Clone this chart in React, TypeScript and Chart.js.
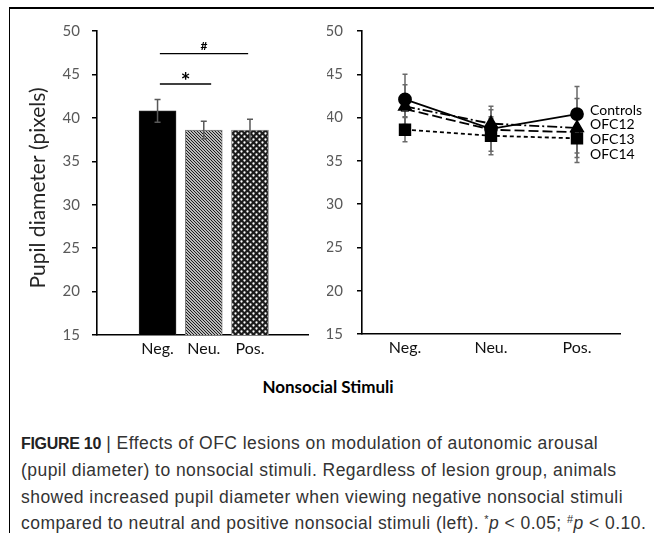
import React, { useEffect, useRef } from 'react';
import { Chart, registerables } from 'chart.js';

Chart.register(...registerables);

// ---------- data ----------
const categories = ['Neg.', 'Neu.', 'Pos.'];
const barMeans = [40.8, 38.6, 38.6];
const barErrors = [1.3, 1.0, 1.25];

const sigLabels = ['*', '#'];
const sigStart = [0.05, 0.05];
const sigEnd = [1.16, 1.96];
const sigLevel = [43.9, 47.4];

const seriesNames = ['Controls', 'OFC12', 'OFC13', 'OFC14'];
const controls = [42.1, 38.7, 40.4];
const controlsErr = [2.9, 2.6, 3.2];
const ofc12 = [41.3, 39.3, 38.8];
const ofc12Err = [2.5, 1.6, 3.4];
const ofc13 = [38.6, 37.9, 37.6];
const ofc13Err = [1.4, 2.2, 2.8];
const ofc14 = [41.0, 38.6, 38.3];
const ofc14Err = [0.9, 1.3, 2.4];

const yMin = 15;
const yMax = 50;
const yStep = 5;
const yTitle = 'Pupil diameter (pixels)';
const xTitle = 'Nonsocial Stimuli';

const FONT = 'Lato, "Open Sans", sans-serif';

function makeHatch(): CanvasPattern | string {
  const c = document.createElement('canvas');
  c.width = 3;
  c.height = 3;
  const g = c.getContext('2d');
  if (!g) return '#888';
  g.fillStyle = '#fff';
  g.fillRect(0, 0, 3, 3);
  g.strokeStyle = '#111';
  g.lineWidth = 1.1;
  g.beginPath();
  g.moveTo(-1, -1);
  g.lineTo(4, 4);
  g.moveTo(-1, 2);
  g.lineTo(1, 4);
  g.moveTo(2, -1);
  g.lineTo(4, 1);
  g.stroke();
  return g.createPattern(c, 'repeat') || '#888';
}

function makeDots(): CanvasPattern | string {
  const c = document.createElement('canvas');
  c.width = 6;
  c.height = 6;
  const g = c.getContext('2d');
  if (!g) return '#444';
  g.fillStyle = '#1a1a1a';
  g.fillRect(0, 0, 6, 6);
  g.fillStyle = '#fff';
  g.beginPath();
  g.arc(1.5, 1.5, 1.15, 0, Math.PI * 2);
  g.arc(4.5, 4.5, 1.15, 0, Math.PI * 2);
  g.fill();
  return g.createPattern(c, 'repeat') || '#444';
}

function drawErr(ctx: CanvasRenderingContext2D, x: number, yTop: number, yBot: number, cap: number) {
  ctx.beginPath();
  ctx.moveTo(x, yTop);
  ctx.lineTo(x, yBot);
  ctx.moveTo(x - cap, yTop);
  ctx.lineTo(x + cap, yTop);
  ctx.moveTo(x - cap, yBot);
  ctx.lineTo(x + cap, yBot);
  ctx.stroke();
}

function yAxis(pad: number, width: number) {
  return {
    min: yMin,
    max: yMax,
    ticks: {
      stepSize: yStep,
      font: { family: FONT, size: 15 },
      color: '#595959',
      padding: pad,
    },
    grid: {
      display: true,
      drawOnChartArea: false,
      drawTicks: true,
      tickLength: 5,
      color: '#000',
      lineWidth: 1.5,
    },
    border: { display: true, color: '#000', width: 1.6 },
    afterFit: (s: any) => {
      s.width = width;
    },
  };
}

export default function App() {
  const leftRef = useRef<HTMLCanvasElement | null>(null);
  const rightRef = useRef<HTMLCanvasElement | null>(null);

  useEffect(() => {
    if (!leftRef.current || !rightRef.current) return;

    const barErrPlugin = {
      id: 'barErr',
      afterDatasetsDraw(chart: any) {
        const { ctx } = chart;
        const y = chart.scales.y;
        const meta = chart.getDatasetMeta(0);
        ctx.save();
        ctx.strokeStyle = '#595959';
        ctx.lineWidth = 1.5;
        meta.data.forEach((el: any, i: number) => {
          drawErr(ctx, el.x, y.getPixelForValue(barMeans[i] + barErrors[i]), y.getPixelForValue(barMeans[i] - barErrors[i]), 3);
        });
        ctx.restore();
      },
    };

    const sigPlugin = {
      id: 'sig',
      afterDraw(chart: any) {
        const { ctx } = chart;
        const x = chart.scales.x;
        const y = chart.scales.y;
        ctx.save();
        ctx.strokeStyle = '#000';
        ctx.lineWidth = 1.3;
        ctx.fillStyle = '#000';
        ctx.textAlign = 'center';
        ctx.textBaseline = 'alphabetic';
        sigLabels.forEach((lab, i) => {
          const x0 = x.getPixelForValue(sigStart[i]);
          const x1 = x.getPixelForValue(sigEnd[i]);
          const py = y.getPixelForValue(sigLevel[i]);
          ctx.beginPath();
          ctx.moveTo(x0, py);
          ctx.lineTo(x1, py);
          ctx.stroke();
          ctx.font = `bold ${lab === '*' ? 23 : 12}px ${FONT}`;
          ctx.fillText(lab, (x0 + x1) / 2, lab === '*' ? py + 5 : py - 4);
        });
        ctx.restore();
      },
    };

    const yTitlePlugin = {
      id: 'yTitle',
      afterDraw(chart: any) {
        const { ctx, chartArea } = chart;
        ctx.save();
        ctx.translate(38, (chartArea.top + chartArea.bottom) / 2 + 5);
        ctx.rotate(-Math.PI / 2);
        ctx.font = `21px ${FONT}`;
        ctx.fillStyle = '#262626';
        ctx.textAlign = 'center';
        ctx.textBaseline = 'middle';
        ctx.fillText(yTitle, 0, 0);
        ctx.restore();
      },
    };

    const left = new Chart(leftRef.current, {
      type: 'bar',
      data: {
        datasets: [
          {
            data: barMeans.map((v, i) => ({ x: i, y: v })),
            backgroundColor: ['#000', makeHatch(), makeDots()] as any,
            borderColor: ['#222', '#808080', '#808080'],
            borderWidth: 1,
            barThickness: 37,
          } as any,
        ],
      },
      options: {
        responsive: false,
        animation: false,
        devicePixelRatio: 1,
        layout: { padding: { left: 0, top: 31, right: 19, bottom: 0 } },
        plugins: { legend: { display: false }, tooltip: { enabled: false } },
        scales: {
          x: {
            type: 'linear',
            min: -1.31,
            max: 3.255,
            offset: false,
            grid: { display: false, drawTicks: false },
            border: { display: true, color: '#000', width: 1.6 },
            afterBuildTicks: (s: any) => {
              s.ticks = categories.map((_, i) => ({ value: i }));
            },
            ticks: {
              autoSkip: false,
              maxRotation: 0,
              callback: (v: any) => categories[v as number],
              font: { family: FONT, size: 16 },
              color: '#111',
              padding: 4,
            },
            afterFit: (s: any) => {
              s.height = 35;
            },
          } as any,
          y: yAxis(12, 97) as any,
        },
      },
      plugins: [barErrPlugin, sigPlugin, yTitlePlugin],
    });

    const seriesValues = [controls, ofc12, ofc13, ofc14];
    const seriesErrors = [controlsErr, ofc12Err, ofc13Err, ofc14Err];

    const lineErrPlugin = {
      id: 'lineErr',
      beforeDatasetsDraw(chart: any) {
        const { ctx } = chart;
        const y = chart.scales.y;
        ctx.save();
        ctx.strokeStyle = '#6a6a6a';
        ctx.lineWidth = 1.5;
        seriesValues.forEach((vals, d) => {
          const meta = chart.getDatasetMeta(d);
          meta.data.forEach((el: any, i: number) => {
            drawErr(ctx, el.x, y.getPixelForValue(vals[i] + seriesErrors[d][i]), y.getPixelForValue(vals[i] - seriesErrors[d][i]), 2.5);
          });
        });
        ctx.restore();
      },
    };

    const labelPlugin = {
      id: 'endLabels',
      afterDraw(chart: any) {
        const { ctx } = chart;
        const meta = chart.getDatasetMeta(0);
        const last = meta.data[meta.data.length - 1];
        ctx.save();
        ctx.font = `14px ${FONT}`;
        ctx.fillStyle = '#000';
        ctx.textAlign = 'left';
        ctx.textBaseline = 'middle';
        seriesNames.forEach((name, i) => {
          ctx.fillText(name, last.x + 13, last.y - 4 + i * 14.7);
        });
        ctx.restore();
      },
    };

    const right = new Chart(rightRef.current, {
      type: 'line',
      data: {
        labels: categories,
        datasets: [
          {
            label: seriesNames[0],
            data: controls,
            borderColor: '#000',
            borderWidth: 1.8,
            pointStyle: 'circle',
            pointRadius: 6,
            pointBackgroundColor: '#000',
            pointBorderColor: '#000',
          },
          {
            label: seriesNames[1],
            data: ofc12,
            borderColor: '#000',
            borderWidth: 1.8,
            borderDash: [10, 3, 2, 3],
            pointStyle: 'triangle',
            pointRadius: 7,
            pointBackgroundColor: '#000',
            pointBorderColor: '#000',
          },
          {
            label: seriesNames[2],
            data: ofc13,
            borderColor: '#000',
            borderWidth: 1.8,
            borderDash: [4, 3],
            pointStyle: 'rect',
            pointRadius: 7.5,
            pointBackgroundColor: '#000',
            pointBorderColor: '#000',
          },
          {
            label: seriesNames[3],
            data: ofc14,
            borderColor: '#000',
            borderWidth: 1.8,
            borderDash: [10, 4],
            pointStyle: 'triangle',
            pointRadius: 4.5,
            pointBackgroundColor: '#fff',
            pointBorderColor: '#000',
            pointBorderWidth: 1,
          },
        ],
      },
      options: {
        responsive: false,
        animation: false,
        devicePixelRatio: 1,
        layout: { padding: { left: 0, top: 31, right: 34, bottom: 0 } },
        plugins: { legend: { display: false }, tooltip: { enabled: false } },
        elements: { line: { tension: 0 } },
        scales: {
          x: {
            type: 'category',
            offset: true,
            grid: { display: false, drawTicks: false },
            border: { display: true, color: '#000', width: 1.6 },
            ticks: {
              font: { family: FONT, size: 16 },
              color: '#111',
              padding: 4,
              maxRotation: 0,
            },
            afterFit: (s: any) => {
              s.height = 36;
            },
          } as any,
          y: yAxis(14, 35) as any,
        },
      },
      plugins: [lineErrPlugin, labelPlugin],
    });

    return () => {
      left.destroy();
      right.destroy();
    };
  }, []);

  const supStyle: React.CSSProperties = { position: 'relative', top: -6, fontSize: '11px', lineHeight: 0 };

  return (
    <div
      style={{
        position: 'absolute',
        left: 0,
        top: 0,
        width: 654,
        height: 533,
        background: '#fff',
        overflow: 'hidden',
      }}
    >
      <div style={{ position: 'absolute', left: 9, top: 7, width: 645, height: 1.5, background: '#000' }} />
      <div style={{ position: 'absolute', left: 9, top: 7, width: 1.3, height: 526, background: '#000' }} />
      <canvas ref={leftRef} width={327} height={370} style={{ position: 'absolute', left: 0, top: 0 }} />
      <canvas ref={rightRef} width={327} height={370} style={{ position: 'absolute', left: 327, top: 0 }} />
      <div
        style={{
          position: 'absolute',
          left: 0,
          top: 376,
          width: 656,
          textAlign: 'center',
          font: `bold 17px ${FONT}`,
          lineHeight: '22px',
          color: '#000',
        }}
      >
        {xTitle}
      </div>
      <div
        style={{
          position: 'absolute',
          left: 21,
          top: 430,
          whiteSpace: 'nowrap',
          font: '17.5px "Liberation Sans", Arial, sans-serif',
          letterSpacing: '0.45px',
          lineHeight: '26.3px',
          color: '#333',
        }}
      >
        <b style={{ color: '#222', fontSize: '16px', letterSpacing: '-0.3px' }}>FIGURE 10</b> | Effects of OFC lesions on modulation of autonomic arousal
        <br />
        (pupil diameter) to nonsocial stimuli. Regardless of lesion group, animals
        <br />
        showed increased pupil diameter when viewing negative nonsocial stimuli
        <br />
        compared to neutral and positive nonsocial stimuli (left). <span style={supStyle}>*</span>
        <i>p</i> &lt; 0.05; <span style={supStyle}>#</span>
        <i>p</i> &lt; 0.10.
      </div>
    </div>
  );
}
